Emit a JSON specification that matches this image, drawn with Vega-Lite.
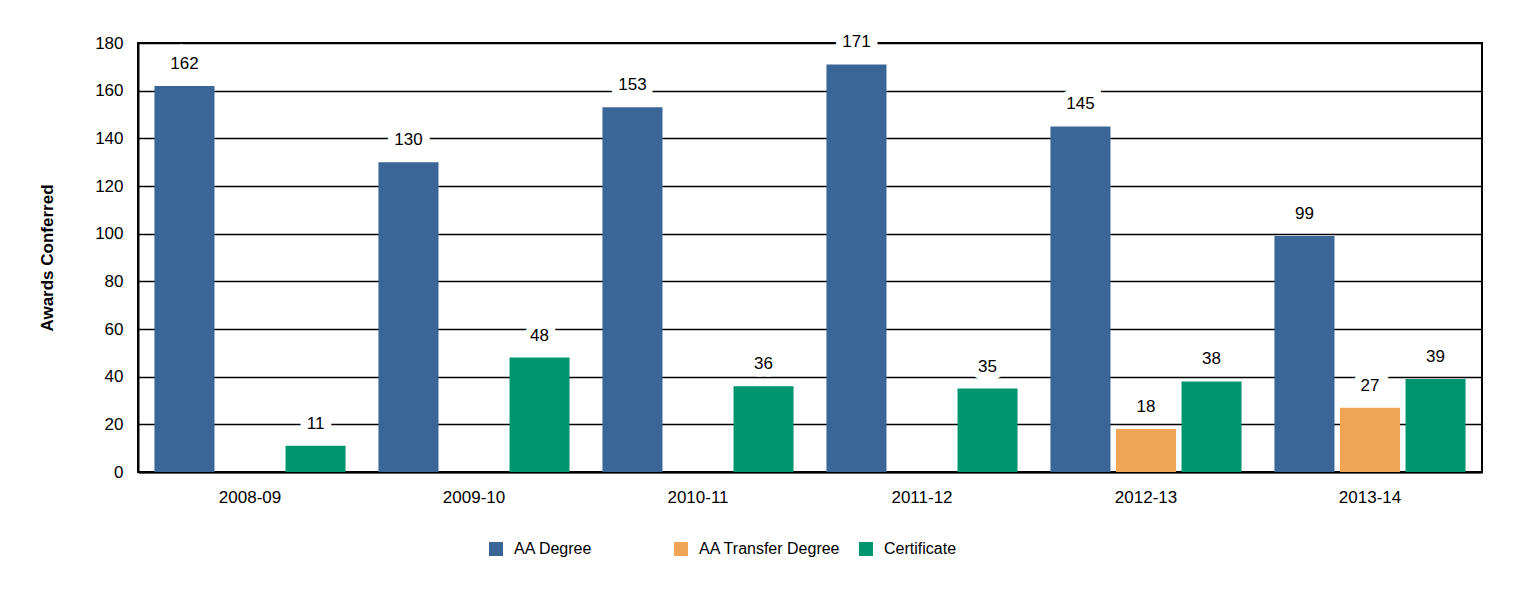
{
  "$schema": "https://vega.github.io/schema/vega-lite/v6.json",
  "width": 1344,
  "height": 429,
  "autosize": {"type": "none"},
  "padding": {"left": 138, "top": 43, "right": 49, "bottom": 117},
  "background": "white",
  "config": {
    "font": "Liberation Sans",
    "view": {"stroke": "black", "strokeWidth": 2},
    "axis": {"labelColor": "black", "titleColor": "black", "labelFont": "Liberation Sans", "titleFont": "Liberation Sans"}
  },
  "data": {
    "values": [
      {"year": "2008-09", "type": "AA Degree", "value": 162},
      {"year": "2008-09", "type": "Certificate", "value": 11},
      {"year": "2009-10", "type": "AA Degree", "value": 130},
      {"year": "2009-10", "type": "Certificate", "value": 48},
      {"year": "2010-11", "type": "AA Degree", "value": 153},
      {"year": "2010-11", "type": "Certificate", "value": 36},
      {"year": "2011-12", "type": "AA Degree", "value": 171},
      {"year": "2011-12", "type": "Certificate", "value": 35},
      {"year": "2012-13", "type": "AA Degree", "value": 145},
      {"year": "2012-13", "type": "AA Transfer Degree", "value": 18},
      {"year": "2012-13", "type": "Certificate", "value": 38},
      {"year": "2013-14", "type": "AA Degree", "value": 99},
      {"year": "2013-14", "type": "AA Transfer Degree", "value": 27},
      {"year": "2013-14", "type": "Certificate", "value": 39}
    ]
  },
  "encoding": {
    "x": {
      "field": "year", "type": "nominal",
      "scale": {"paddingInner": 0.147, "paddingOuter": 0.0735},
      "axis": {"title": null, "labelAngle": 0, "labelFontSize": 17, "labelPadding": 17, "ticks": false, "domain": true, "domainColor": "black", "domainWidth": 2}
    },
    "xOffset": {
      "field": "type", "type": "nominal",
      "scale": {"domain": ["AA Degree", "AA Transfer Degree", "Certificate"], "paddingInner": 0.084, "paddingOuter": 0}
    },
    "y": {
      "field": "value", "type": "quantitative",
      "scale": {"domain": [0, 180], "nice": false},
      "axis": {
        "title": "Awards Conferred", "titleFontSize": 17, "titleFontWeight": "bold", "titlePadding": 38,
        "values": [0, 20, 40, 60, 80, 100, 120, 140, 160, 180],
        "labelFontSize": 17, "labelPadding": 15, "ticks": false,
        "domain": true, "domainColor": "black", "domainWidth": 2,
        "grid": true, "gridColor": "black", "gridWidth": 1.6, "gridOpacity": 1
      }
    }
  },
  "layer": [
    {
      "mark": {"type": "bar"},
      "encoding": {
        "color": {
          "field": "type", "type": "nominal",
          "scale": {"domain": ["AA Degree", "AA Transfer Degree", "Certificate"], "range": ["#3A6597", "#F0A456", "#00946F"]},
          "legend": {
            "title": null, "orient": "none", "legendX": 350, "legendY": 498,
            "direction": "horizontal", "symbolType": "square", "symbolSize": 196,
            "symbolStrokeWidth": 0, "labelFontSize": 16, "labelColor": "black", "labelFont": "Liberation Sans",
            "labelOffset": 10, "columnPadding": 17, "gridAlign": "all", "labelLimit": 300
          }
        }
      }
    },
    {
      "mark": {"type": "text", "dy": -22, "baseline": "middle", "fontSize": 17, "fill": "white", "stroke": "white", "strokeWidth": 15},
      "encoding": {"text": {"field": "value", "type": "quantitative"}}
    },
    {
      "mark": {"type": "text", "dy": -22, "baseline": "middle", "fontSize": 17, "fill": "black"},
      "encoding": {"text": {"field": "value", "type": "quantitative"}}
    }
  ]
}
